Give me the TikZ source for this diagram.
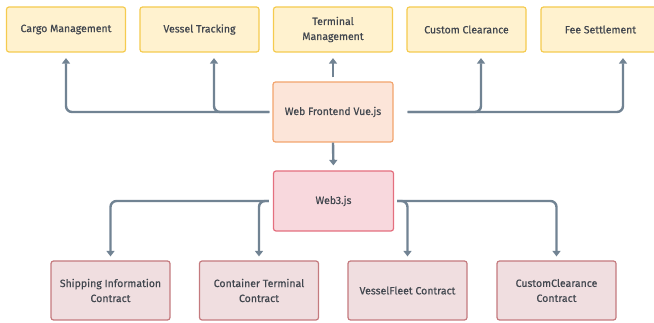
\documentclass[tikz,border=0pt]{standalone}
\usepackage{fontspec}
\setmainfont{Fira Sans}
\usetikzlibrary{arrows.meta}
\definecolor{txt}{HTML}{42474F}
\definecolor{line}{HTML}{718393}
\definecolor{modfill}{HTML}{FFF2CF}
\definecolor{moddraw}{HTML}{F5CB4F}
\definecolor{wffill}{HTML}{FCE5D9}
\definecolor{wfdraw}{HTML}{F2A46D}
\definecolor{wthfill}{HTML}{F8D8DD}
\definecolor{wthdraw}{HTML}{E46F7E}
\definecolor{ctfill}{HTML}{F0DEE0}
\definecolor{ctdraw}{HTML}{C47A7E}
\begin{document}
\begin{tikzpicture}[x=1pt,y=-1pt,
  box/.style={rectangle,rounded corners=2.5pt,line width=1.2pt,minimum width=119pt,
    align=center,text=txt,font=\fontsize{10.5}{15}\selectfont\addfontfeature{FakeBold=0.5},inner sep=2pt},
  module/.style={box,fill=modfill,draw=moddraw,minimum height=45pt},
  front/.style={box,fill=wffill,draw=wfdraw,minimum height=60pt,minimum width=120pt},
  bridge/.style={box,fill=wthfill,draw=wthdraw,minimum height=60pt,minimum width=120pt},
  contract/.style={box,fill=ctfill,draw=ctdraw,minimum height=59pt},
  conn/.style={draw=line,line width=2.4pt,rounded corners=6pt,
    -{Triangle[width=8pt,length=5.5pt]},shorten >=5.5pt}
]
\useasboundingbox (0,0) rectangle (654,323);

% feature modules
\node[module] (cargo) at (66,29.5) {Cargo Management};
\node[module] (vessel) at (199.5,29.5) {Vessel Tracking};
\node[module] (terminal) at (333,29.5) {Terminal\\Management};
\node[module] (custom) at (466.5,29.5) {Custom Clearance};
\node[module] (fee) at (600.5,29.5) {Fee Settlement};

% front end and web3 layer
\node[front] (wf) at (333,112) {Web Frontend Vue.js};
\node[bridge] (w3) at (333.5,201) {Web3.js};

% smart contracts
\node[contract] (ship) at (110.5,290.5) {Shipping Information\\Contract};
\node[contract] (cont) at (259,290.5) {Container Terminal\\Contract};
\node[contract] (vf) at (407.5,290.5) {VesselFleet Contract};
\node[contract] (cc) at (556.5,290.5) {CustomClearance\\Contract};

% branch points
\coordinate (wfl) at ([xshift=-3pt]wf.west);
\coordinate (wfr) at ([xshift=14pt]wf.east);
\coordinate (w3l) at ([xshift=-4pt]w3.west);
\coordinate (w3r) at ([xshift=3pt]w3.east);

% front end to modules
\draw[conn] (wfl) -| (cargo.south);
\draw[conn] (wfl) -| ([xshift=14.5pt]vessel.south);
\draw[conn,shorten <=4pt] (wf.north) -- (terminal.south);
\draw[conn] (wfr) -| ([xshift=14.5pt]custom.south);
\draw[conn] (wfr) -| ([xshift=22.5pt]fee.south);

% front end to web3
\draw[conn,shorten >=5pt] (wf.south) -- (w3.north);

% web3 to contracts
\draw[conn,shorten >=4pt] (w3l) -| (ship.north);
\draw[conn,shorten >=4pt] (w3l) -| (cont.north);
\draw[conn,shorten >=4pt] (w3r) -| (vf.north);
\draw[conn,shorten >=4pt] (w3r) -| (cc.north);
\end{tikzpicture}
\end{document}
